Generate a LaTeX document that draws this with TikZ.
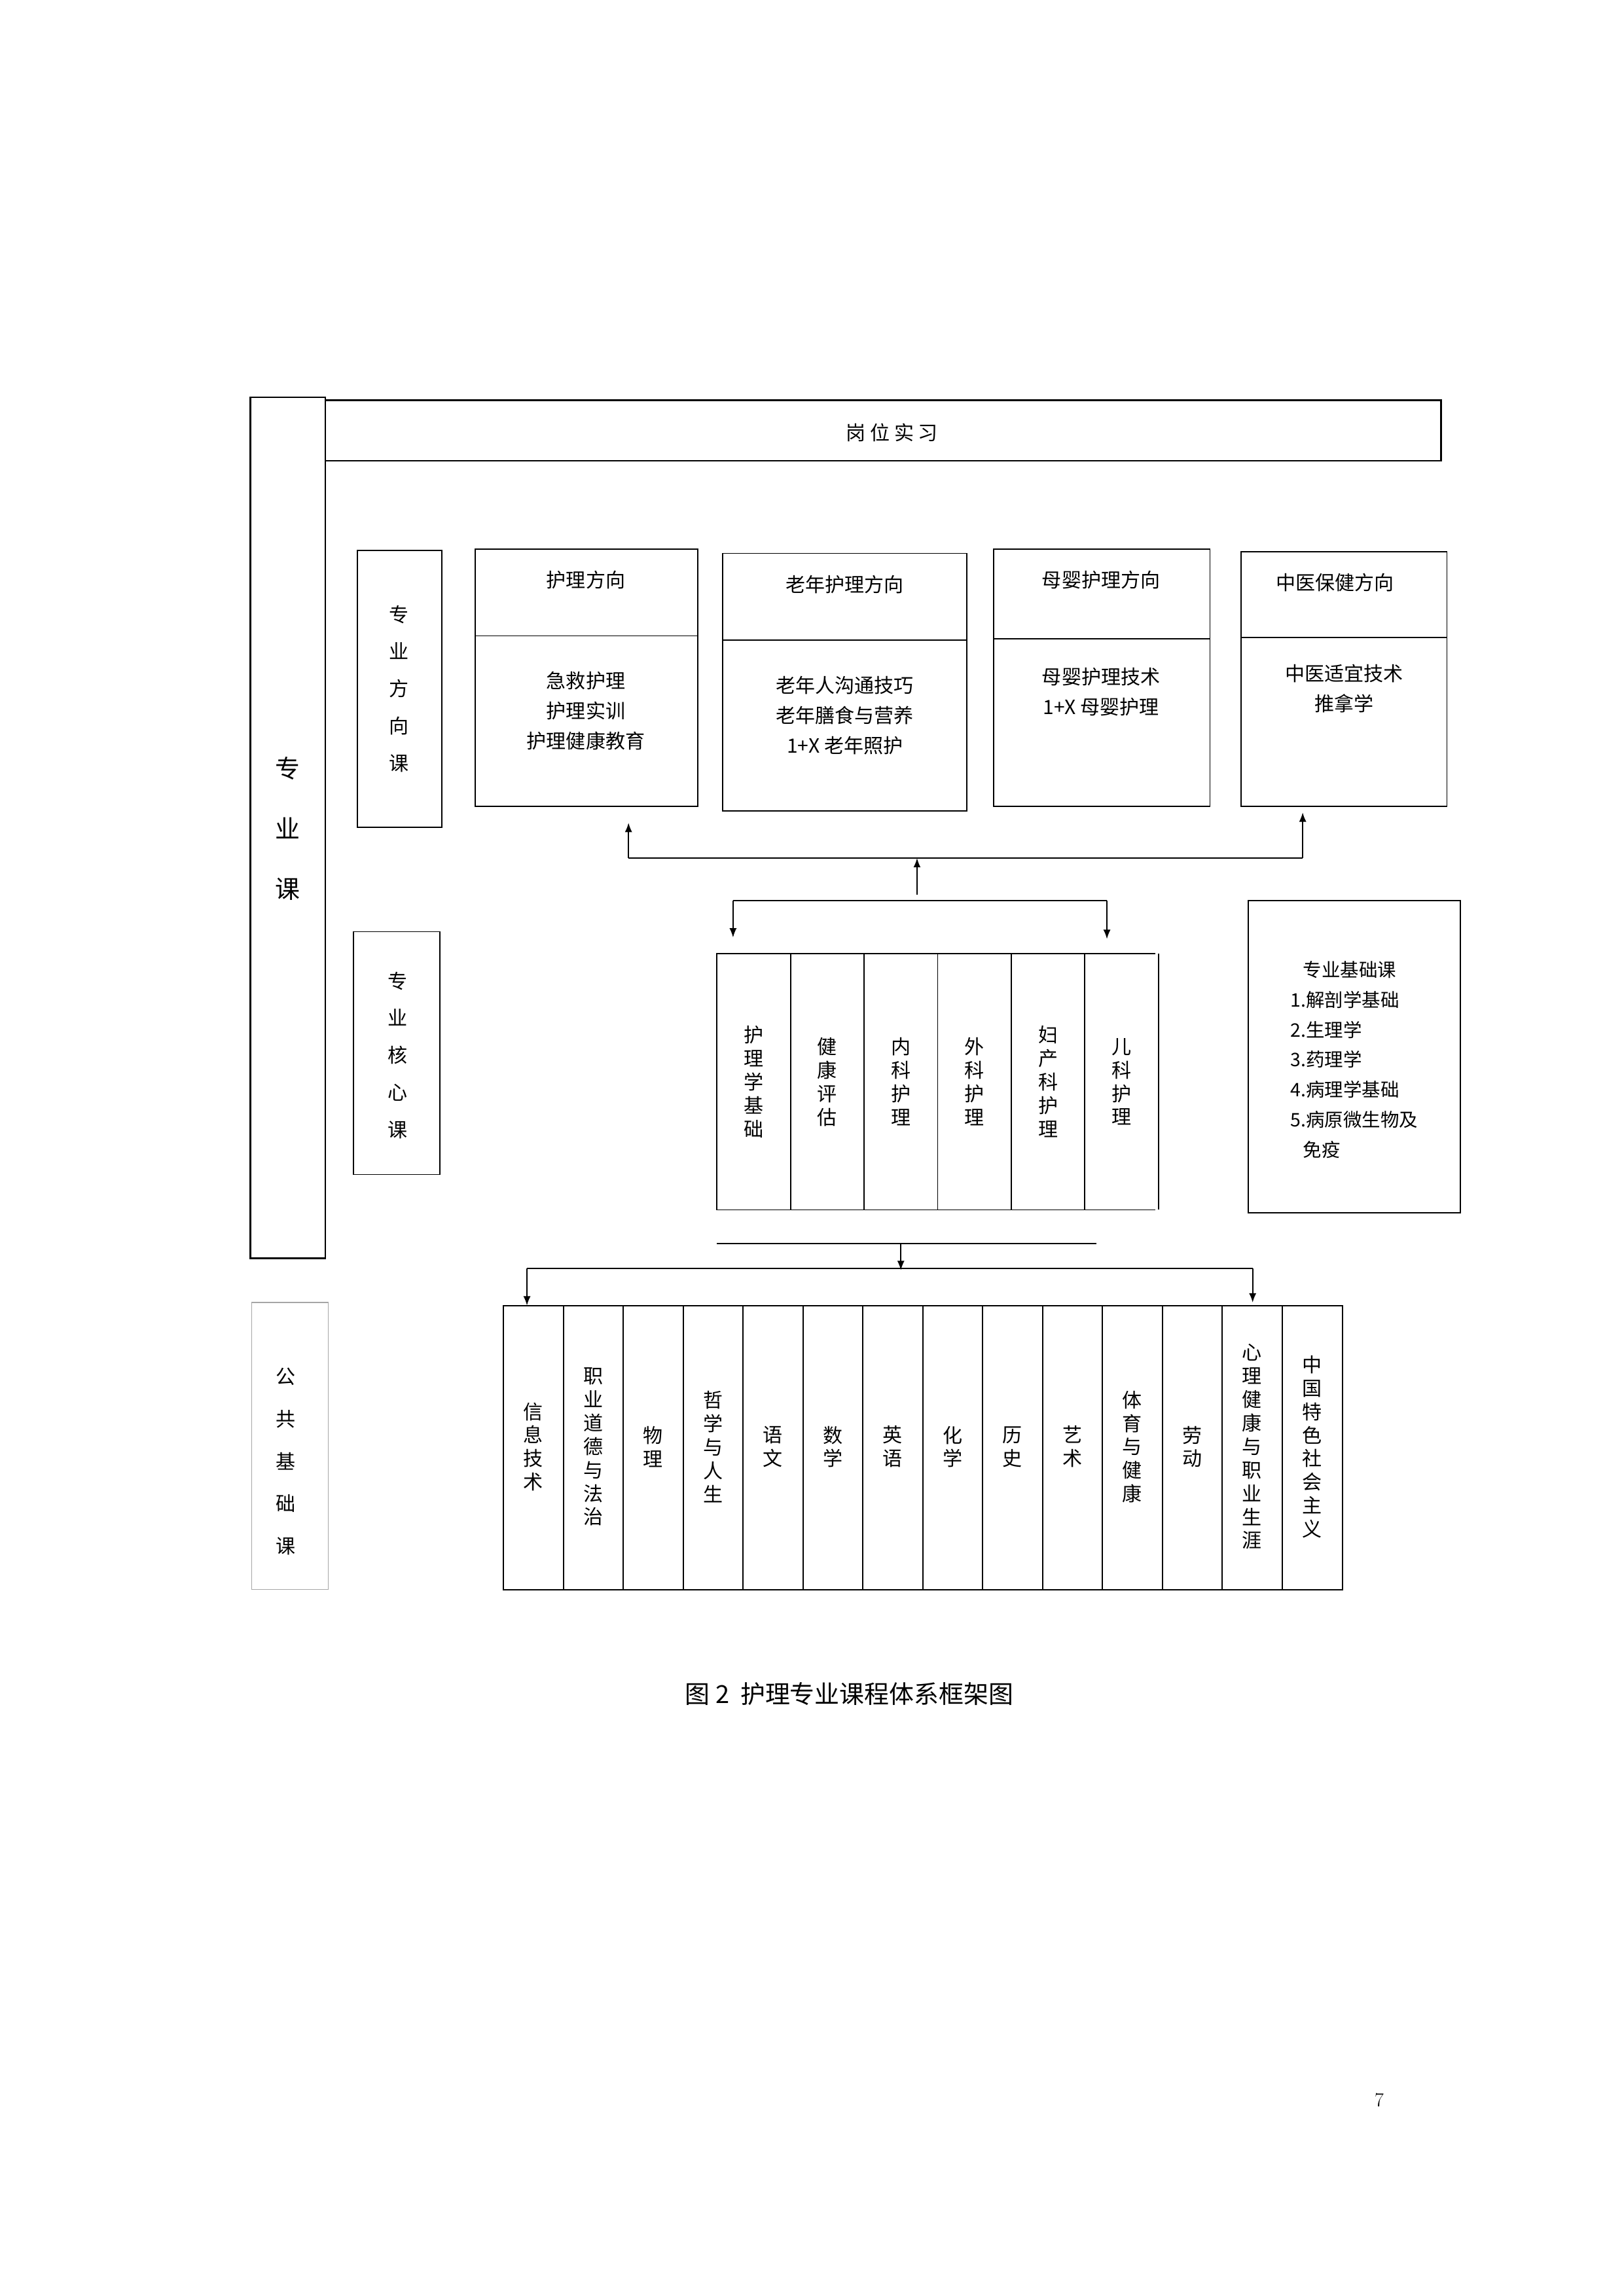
\documentclass[tikz,border=0pt]{standalone}
\usepackage{fontspec}
\newfontfamily\cjk{Noto Sans CJK SC}
\usetikzlibrary{arrows.meta}
\begin{document}
\begin{tikzpicture}[
  x=0.05cm, y=-0.05cm,
  box/.style={draw, line width=1.2pt},
  txt/.style={font=\cjk\fontsize{19}{29}\selectfont, align=center, inner sep=0pt},
  vtxt/.style={font=\cjk\fontsize{19}{22.7}\selectfont, align=center, inner sep=0pt, text width=0.8cm},
  arr/.style={-{Latex[length=9pt,width=7pt]}, line width=1.2pt},
  ln/.style={line width=1.2pt}
]
\useasboundingbox[fill=white] (0,0) rectangle (1103,1560);

% professional courses frame
\draw[box, line width=1.6pt] (170,270) rectangle (221,855);
\node[vtxt, font=\cjk\fontsize{24}{58}\selectfont] (zyk) at (195,563) {专\\业\\课};
\draw[box, line width=1.6pt] (221,272) rectangle (979,313);
\node[txt] (gwsx) at (606,294) {岗\ 位\ 实\ 习};

% direction courses
\draw[box] (243,374) rectangle (300,562);
\node[vtxt, font=\cjk\fontsize{19}{36}\selectfont] (fxk) at (271,468) {专\\业\\方\\向\\课};

\draw[box] (323,373) rectangle (474,548); \draw[ln] (323,432) -- (474,432);
\node[txt] (d1) at (398,394) {护理方向};
\node[txt] at (398,483) {急救护理\\护理实训\\护理健康教育};
\draw[box] (491,376) rectangle (657,551); \draw[ln] (491,435) -- (657,435);
\node[txt] (d2) at (574,397) {老年护理方向};
\node[txt] at (574,486) {老年人沟通技巧\\老年膳食与营养\\1+X 老年照护};
\draw[box] (675,373) rectangle (822,548); \draw[ln] (675,434) -- (822,434);
\node[txt] (d3) at (748,394) {母婴护理方向};
\node[txt] at (748,470) {母婴护理技术\\1+X 母婴护理};
\draw[box] (843,375) rectangle (983,548); \draw[ln] (843,433) -- (983,433);
\node[txt] (d4) at (907,396) {中医保健方向};
\node[txt] at (913,468) {中医适宜技术\\推拿学};

% arrows up to directions
\coordinate (ua) at (427,583); \coordinate (ub) at (885,583);
\draw[ln] (ua) -- (ub);
\draw[arr] (ua) -- (427,559);
\draw[arr] (ub) -- (885,552);
\draw[arr] (623,608) -- (623,583);

% arrows down to core
\coordinate (da) at (498,612); \coordinate (db) at (752,612);
\draw[ln] (da) -- (db);
\draw[arr] (da) -- (498,637);
\draw[arr] (db) -- (752,638);

% core courses
\draw[box] (240,633) rectangle (299,798);
\node[vtxt, font=\cjk\fontsize{19}{36}\selectfont] (hxk) at (270,717) {专\\业\\核\\心\\课};
\draw[ln] (785,648) -- (487,648) -- (487,822) -- (785,822);
\foreach \i/\t in {0/护\\理\\学\\基\\础, 1/健\\康\\评\\估, 2/内\\科\\护\\理, 3/外\\科\\护\\理, 4/妇\\产\\科\\护\\理, 5/儿\\科\\护\\理} {
  \draw[ln] (537+50*\i,648) -- (537+50*\i,822);
  \node[vtxt] (core\i) at (512+50*\i,735) {\t};
}
\draw[ln] (537+250,648) -- (537+250,648);

% basic courses
\draw[box] (848,612) rectangle (992,824);
\node[txt, align=left, font=\cjk\fontsize{18}{29}\selectfont] (jck) at (920,720)
  {\ \ \ 专业基础课\\1.解剖学基础\\2.生理学\\3.药理学\\4.病理学基础\\5.病原微生物及\\\ \ \ 免疫};

% arrows down to public
\draw[ln] (487,845) -- (745,845);
\coordinate (pa) at (358,862); \coordinate (pb) at (851,862);
\draw[arr] (612,845) -- (612,863);
\draw[ln] (pa) -- (pb);
\draw[arr] (pa) -- (358,887);
\draw[arr] (pb) -- (851,885);

% public courses
\draw[draw=gray!70, line width=1pt] (171,885) rectangle (223,1080);
\node[vtxt, font=\cjk\fontsize{19}{41}\selectfont] (ggk) at (194,993) {公\\共\\基\\础\\课};
\draw[box] (342,887) rectangle (912,1080);
\foreach \i/\t in {0/信\\息\\技\\术, 1/职\\业\\道\\德\\与\\法\\治, 2/物\\理, 3/哲\\学\\与\\人\\生, 4/语\\文, 5/数\\学, 6/英\\语, 7/化\\学, 8/历\\史, 9/艺\\术, 10/体\\育\\与\\健\\康, 11/劳\\动, 12/心\\理\\健\\康\\与\\职\\业\\生\\涯, 13/中\\国\\特\\色\\社\\会\\主\\义} {
  \ifnum\i>0 \draw[ln] (342+40.7*\i,887) -- (342+40.7*\i,1080); \fi
  \node[vtxt] (pub\i) at (362.3+40.7*\i,983) {\t};
}

\node[txt, font=\cjk\fontsize{24}{28}\selectfont] (title) at (577,1151) {图 2\ \ 护理专业课程体系框架图};
\node[txt, font=\fontsize{19}{22}\selectfont] (page) at (937,1427) {7};
\end{tikzpicture}
\end{document}
